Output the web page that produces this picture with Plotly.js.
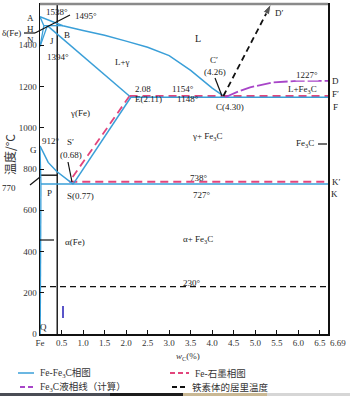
<!DOCTYPE html>
<html><head><meta charset="utf-8">
<script src="https://cdn.plot.ly/plotly-3.0.1.min.js"></script>
<style>html,body{margin:0;padding:0;background:#fff}#chart{width:350px;height:396px}</style>
</head><body><div id="chart"></div>
<script>
// ---------- data (wC %, temperature °C) ----------
const liquidusC = [0, 0.53, 1.0, 1.5, 2.0, 2.5, 3.0, 3.5, 4.0, 4.30];
const liquidusT = [1538, 1495, 1472, 1448, 1420, 1390, 1350, 1278, 1192, 1148];
const solidusAHC = [0, 0.09];           const solidusAHT = [1538, 1495];
const lineHNC = [0.09, 0];              const lineHNT = [1495, 1394];
const lineJNC = [0.17, 0];              const lineJNT = [1495, 1394];
const peritecticC = [0.09, 0.53];       const peritecticT = [1495, 1495];
const solidusJEC = [0.17, 2.11];        const solidusJET = [1495, 1148];
const lineGSC = [0, 0.19, 0.39, 0.53, 0.77]; const lineGST = [912, 832, 788, 764, 727];
const lineGPC = [0, 0.0218];            const lineGPT = [912, 727];
const linePQC = [0.0218, 0.0057];       const linePQT = [727, 0];
const lineESC = [2.11, 0.77];           const lineEST = [1148, 727];
const eutecticC = [2.11, 6.69];         const eutecticT = [1148, 1148];
const eutectoidC = [0.0218, 6.69];      const eutectoidT = [727, 727];
const cementiteLiqC = [4.30, 4.6, 4.88, 5.41, 5.97, 6.69];
const cementiteLiqT = [1148, 1175, 1196, 1220, 1227, 1227];
const graphEutC = [2.08, 6.69];         const graphEutT = [1154, 1154];
const graphEutdC = [0.68, 6.69];        const graphEutdT = [738, 738];
const graphESC = [2.08, 0.68];          const graphEST = [1154, 738];
const graphLiqC = [4.26, 5.37];         const graphLiqT = [1154, 1600];
const curieC = [0, 6.69];               const curieT = [230, 230];
const magneticC = [0, 0.4];             const magneticT = [770, 770];
const markerLineC = [0.4, 0.4];         const markerLineT = [0, 1600];
const tickVals = [0, 0.5, 1.0, 1.5, 2.0, 2.5, 3.0, 3.5, 4.0, 4.5, 5.0, 5.5, 6.0, 6.5];
const tickText = ['Fe', '0.5', '1.0', '1.5', '2.0', '2.5', '3.0', '3.5', '4.0', '4.5', '5.0', '5.5', '6.0', '6.5'];
const yTickVals = [0, 200, 400, 600, 800, 1000, 1200, 1400, 1600];

// ---------- styles ----------
const BLUE = '#3a9fd8', RED = '#e2457c', PURPLE = '#a845c8', BLACK = '#111';
const SERIF = 'Liberation Serif, Noto Sans CJK SC, serif';
function ln(x, y, color, width, dash) {
  return {x: x, y: y, type: 'scatter', mode: 'lines', showlegend: false, hoverinfo: 'skip',
          line: {color: color, width: width, dash: dash || 'solid'}};
}
const traces = [
  ln(markerLineC, markerLineT, BLACK, 1.4),
  ln(magneticC, magneticT, BLACK, 1.4),
  ln(curieC, curieT, BLACK, 1.3, '6px,4px'),
  ln(graphEutdC, graphEutdT, RED, 2, '8px,5px'),
  ln(eutectoidC, eutectoidT, BLUE, 1.5),
  ln(graphESC, graphEST, RED, 1.8, '8px,5px'),
  ln(liquidusC, liquidusT, BLUE, 1.5),
  ln(solidusAHC, solidusAHT, BLUE, 1.3),
  ln(lineHNC, lineHNT, BLUE, 1.3),
  ln(lineJNC, lineJNT, BLUE, 1.3),
  ln(peritecticC, peritecticT, BLUE, 1.3),
  ln(solidusJEC, solidusJET, BLUE, 1.5),
  ln(lineGSC, lineGST, BLUE, 1.5),
  ln(lineGPC, lineGPT, BLUE, 1.3),
  ln(linePQC, linePQT, BLUE, 1.3),
  ln(lineESC, lineEST, BLUE, 1.5),
  ln(graphEutC, graphEutT, RED, 2, '8px,5px'),
  ln(eutecticC, eutecticT, BLUE, 1.5),
  ln(cementiteLiqC, cementiteLiqT, PURPLE, 1.8, '14px,3px'),
  Object.assign(ln(graphLiqC, graphLiqT, BLACK, 1.8, '6px,4px'), {
    mode: 'lines+markers',
    marker: {symbol: 'arrow', angleref: 'previous', size: [0, 11], color: BLACK}
  })
];

// ---------- pixel helpers for labels ----------
const L = 40, R = 328, T0 = 4, B0 = 334;
const px = v => (v - L) / (R - L);
const py = v => (B0 - v) / (B0 - T0);
function lab(text, x, y, o) {
  return Object.assign({text: text, x: px(x), y: py(y), xref: 'paper', yref: 'paper',
    showarrow: false, xanchor: 'center', yanchor: 'middle',
    font: {family: SERIF, size: 9, color: '#222'}}, o || {});
}
const F3 = 'Fe<sub>3</sub>C';
const annotations = [
  lab('A', 30, 18), lab('H', 30, 29), lab('N', 30, 40), lab('δ(Fe)', 11, 33),
  lab('1538°', 57, 12), lab('1495°', 86, 16), lab('B', 67, 35), lab('J', 52, 41),
  lab('1394°', 58, 57), lab('L', 198, 38, {font: {family: SERIF, size: 10, color: '#222'}}),
  lab('L+γ', 122, 62), lab('γ(Fe)', 80, 113),
  lab('2.08', 143, 89), lab('1154°', 183, 89), lab('E(2.11)', 148, 99), lab('1148°', 188, 99),
  lab('C′', 214, 60), lab('(4.26)', 215, 72), lab('C(4.30)', 230, 107),
  lab('D′', 279, 13), lab('1227°', 307, 75, {bgcolor: '#fff', borderpad: 0}), lab('D', 335, 81),
  lab('L+' + F3, 302, 89), lab('F′', 335, 94), lab('F', 335, 107),
  lab('γ+ ' + F3, 207, 136), lab(F3, 305, 144),
  lab('738°', 199, 178), lab('727°', 202, 195), lab('K′', 336, 182), lab('K', 334, 194),
  lab('α+ ' + F3, 198, 239), lab('230°', 192, 283),
  lab('G', 33, 150), lab('912°', 51, 141), lab('S′', 70, 142), lab('(0.68)', 71, 155),
  lab('S(0.77)', 80, 196), lab('P', 49, 193), lab('770', 9, 188),
  lab('α(Fe)', 75, 242), lab('Q', 43, 327),
  lab('6.69', 338, 343, {font: {family: SERIF, size: 9, color: '#333'}}),
  lab('<i>w</i><sub>C</sub>(%)', 188, 356, {font: {family: SERIF, size: 9, color: '#333'}}),
  lab('温度/°C', 10, 155, {textangle: -90, font: {family: 'Noto Sans CJK SC, Liberation Serif', size: 12, color: '#333'}}),
  lab('Fe-' + F3 + '相图', 38, 373, {xanchor: 'left', font: {family: SERIF, size: 9.5, color: '#333'}}),
  lab('Fe-石墨相图', 193, 373, {xanchor: 'left', font: {family: SERIF, size: 9.5, color: '#333'}}),
  lab(F3 + '液相线（计算）', 38, 387, {xanchor: 'left', font: {family: SERIF, size: 9.5, color: '#333'}}),
  lab('铁素体的居里温度', 190, 387, {xanchor: 'left', font: {family: SERIF, size: 9.5, color: '#333'}})
];
function seg(x0, y0, x1, y1, color, width, dash) {
  return {type: 'line', xref: 'paper', yref: 'paper', x0: px(x0), y0: py(y0), x1: px(x1), y1: py(y1),
          line: {color: color, width: width, dash: dash || 'solid'}};
}
function rect(x0, y0, x1, y1, color) {
  return {type: 'rect', xref: 'paper', yref: 'paper', x0: px(x0), y0: py(y0), x1: px(x1), y1: py(y1),
          line: {width: 0}, fillcolor: color, layer: 'above'};
}
const shapes = [
  seg(40, 4, 328, 4, '#8a8a8a', 2.5),
  seg(24, 33, 35, 33, BLACK, 1.2), seg(35, 33, 70, 15, BLACK, 1.2),
  seg(215, 78, 222, 96, BLACK, 1.2),
  seg(68, 162, 72, 182, BLACK, 1.2),
  seg(30, 185, 40, 177, BLACK, 1.2),
  seg(40, 240, 54, 240, BLACK, 1.2),
  seg(318, 144, 327, 144, BLACK, 1.2),
  seg(63, 306, 63, 318, '#5a55c8', 2),
  // legend keys
  seg(18, 373, 34, 373, BLUE, 1.5),
  seg(170, 373, 189, 373, RED, 1.8, '5px,3px'),
  seg(20, 387, 35, 387, PURPLE, 1.8, '5px,3px'),
  seg(172, 387, 186, 387, BLACK, 1.8, '5px,3px'),
  // bottom strip
  rect(0, 393, 110, 397, '#4a4d55'), rect(110, 393, 183, 397, '#1c1c1c'),
  rect(183, 393, 267, 397, '#c9b894'), rect(267, 393, 352, 397, '#d6d6d6')
];

const layout = {
  width: 350, height: 396,
  margin: {l: L, r: 350 - R, t: T0, b: 396 - B0},
  paper_bgcolor: '#fff', plot_bgcolor: '#fff',
  showlegend: false,
  xaxis: {range: [0, 6.69], tickvals: tickVals, ticktext: tickText, ticks: 'inside', ticklen: 4,
          tickcolor: BLACK, showgrid: false, zeroline: false, showline: true, linecolor: BLACK,
          linewidth: 1.5, mirror: true, tickfont: {family: SERIF, size: 9, color: '#333'}},
  yaxis: {range: [0, 1600], tickvals: yTickVals, ticks: 'inside', ticklen: 4, tickcolor: BLACK,
          showgrid: false, zeroline: false, showline: true, linecolor: BLACK, linewidth: 1.5,
          mirror: true, tickfont: {family: SERIF, size: 9, color: '#333'}},
  annotations: annotations,
  shapes: shapes
};
Plotly.newPlot('chart', traces, layout, {displayModeBar: false, staticPlot: true});
</script></body></html>
